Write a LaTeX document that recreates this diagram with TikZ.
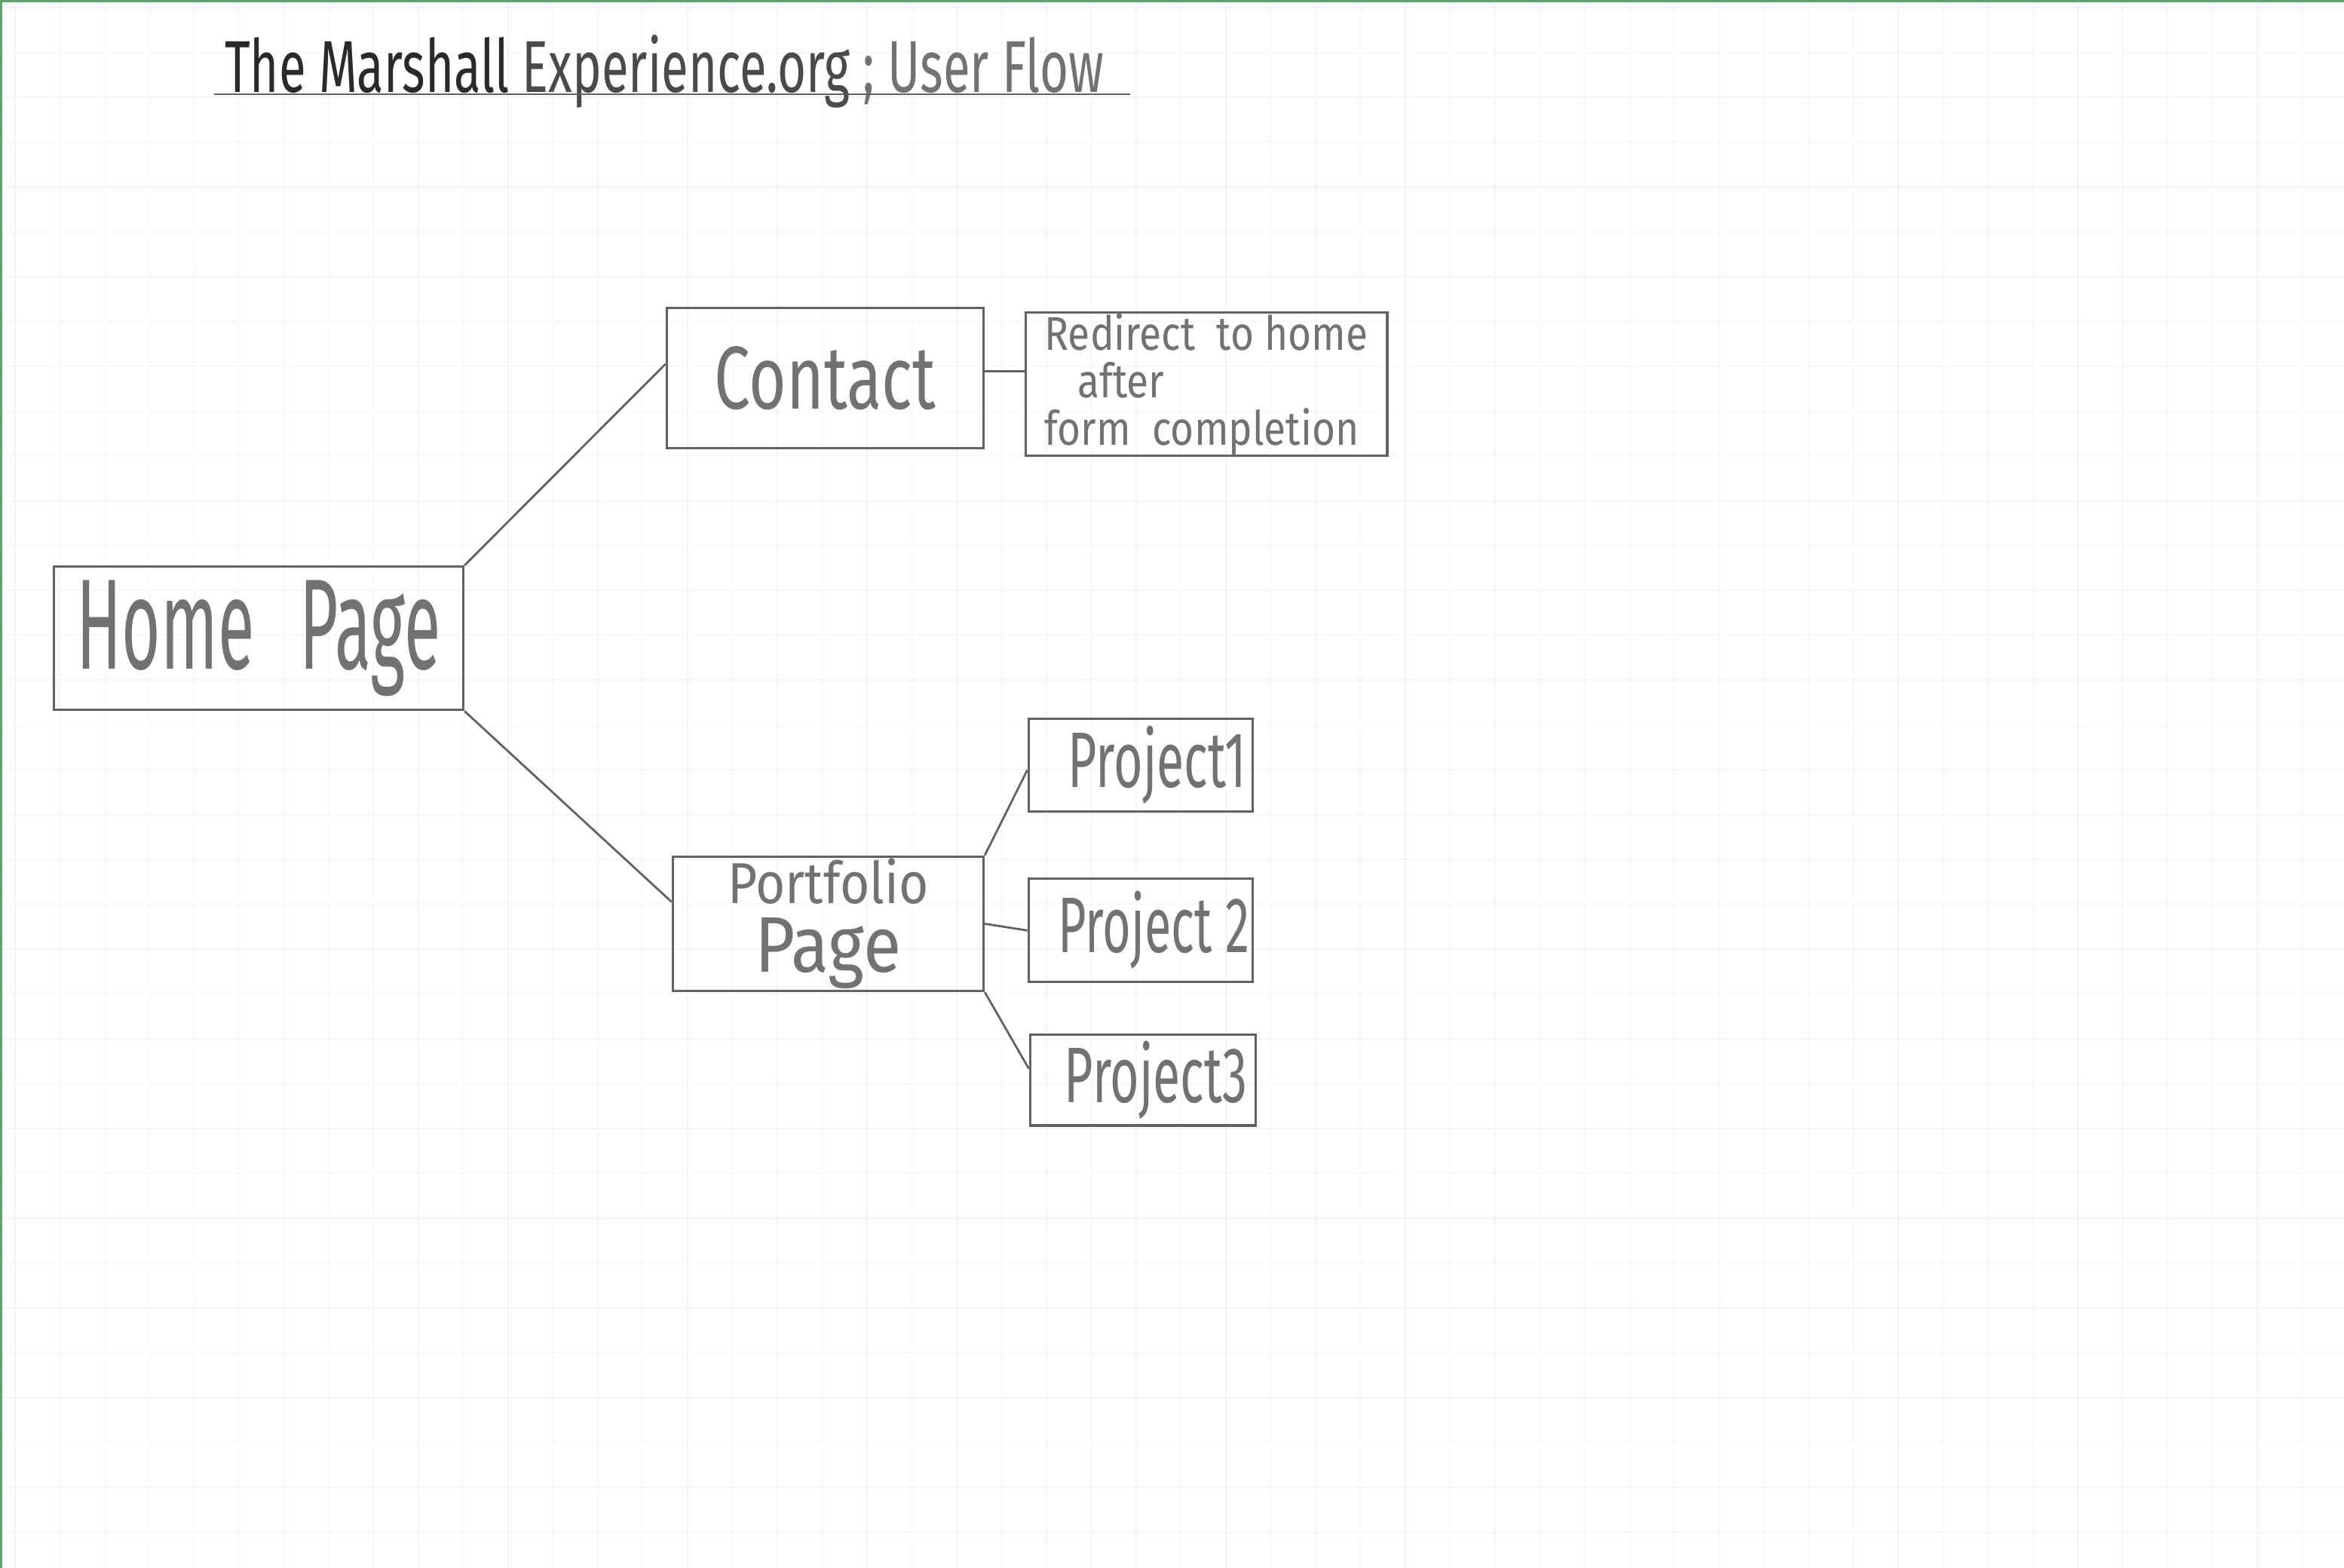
\documentclass[tikz,border=0pt]{standalone}
\usepackage{fontspec}
\newfontfamily\hand{Fira Sans}[FakeStretch=0.72]
\newfontfamily\handr{Fira Sans}[FakeStretch=0.85]
\newfontfamily\handw{Fira Sans}[FakeStretch=0.88]
\usetikzlibrary{calc}
\definecolor{pencil}{HTML}{626262}
\definecolor{ink}{HTML}{727272}
\definecolor{inkdark}{HTML}{2A2A2A}
\definecolor{inkmid}{HTML}{4A4A4A}
\definecolor{gridc}{HTML}{F5F5F5}
\definecolor{edgegreen}{HTML}{5FA36E}
\begin{document}
\begin{tikzpicture}[x=0.02cm,y=-0.02cm,
  box/.style={draw=pencil, line width=0.9pt, inner sep=0pt, text=ink, font=\hand, align=center},
  link/.style={draw=pencil, line width=0.8pt}]
\useasboundingbox (0,0) rectangle (1568,1049);
\fill[white] (0,0) rectangle (1568,1049);
% faint graph paper
\foreach \i in {0,...,52} \draw[gridc, line width=0.4pt] (\i*30+10,0) -- (\i*30+10,1049);
\foreach \j in {0,...,35} \draw[gridc, line width=0.4pt] (0,\j*30+5) -- (1568,\j*30+5);
\draw[edgegreen, line width=1.2pt] (0,0.6) -- (1568,0.6);
\draw[edgegreen, line width=1.2pt] (0.6,0) -- (0.6,1049);

% title
\node[font=\hand, anchor=base west, inner sep=0pt] (title) at (150,62)
  {\scalebox{0.93}[1]{\fontsize{28}{28}\selectfont\textcolor{inkdark}{The Marshall} \textcolor{inkmid}{Experience.org} \textcolor{ink}{; User Flow}}};
\draw[pencil, line width=0.8pt] ($(title.base west)+(-7,1)$) -- ($(title.base east)+(17,1)$);

% boxes
\node[box, minimum width=5.48cm, minimum height=1.92cm] (home) at (173,427)
  {\scalebox{0.72}[1]{\fontsize{49}{49}\selectfont Home\hspace{0.3em} Page}};
\node[box, minimum width=4.24cm, minimum height=1.88cm] (contact) at (552,253)
  {\fontsize{34}{34}\selectfont Contact};
\node[box, minimum width=4.84cm, minimum height=1.92cm, align=left,
      font=\handr\fontsize{18}{18}\selectfont] (redirect) at (807,257)
  {Redirect\ \ to home\\\hspace{0.7em}after\\form\ \ completion};
\node[box, minimum width=4.16cm, minimum height=1.8cm,
      font=\handw\fontsize{22}{26}\selectfont] (portfolio) at (554,618)
  {Portfolio\\{\fontsize{30}{26}\selectfont Page}};
\node[box, minimum width=3.0cm, minimum height=1.24cm] (p1) at (763,512)
  {\hspace{0.45cm}\scalebox{0.88}[1]{\fontsize{30}{30}\selectfont Project1}};
\node[box, minimum width=3.0cm, minimum height=1.38cm] (p2) at (763,622.5)
  {\hspace{0.35cm}\scalebox{0.86}[1]{\fontsize{30}{30}\selectfont Project 2}};
\node[box, minimum width=3.02cm, minimum height=1.22cm] (p3) at (764.5,722.5)
  {\hspace{0.35cm}\scalebox{0.88}[1]{\fontsize{30}{30}\selectfont Project3}};

% connectors
\draw[link] (home.north east) -- ($(contact.north west)!0.4!(contact.south west)$);
\draw[link] (home.south east) -- ($(portfolio.north west)!0.34!(portfolio.south west)$);
\coordinate (cr) at ($(contact.north east)!0.45!(contact.south east)$);
\draw[link] (cr) -- (redirect.west |- cr);
\draw[link] (portfolio.north east) -- ($(p1.north west)!0.55!(p1.south west)$);
\draw[link] (portfolio.east) -- (p2.west);
\draw[link] (portfolio.south east) -- ($(p3.north west)!0.38!(p3.south west)$);
\end{tikzpicture}
\end{document}
